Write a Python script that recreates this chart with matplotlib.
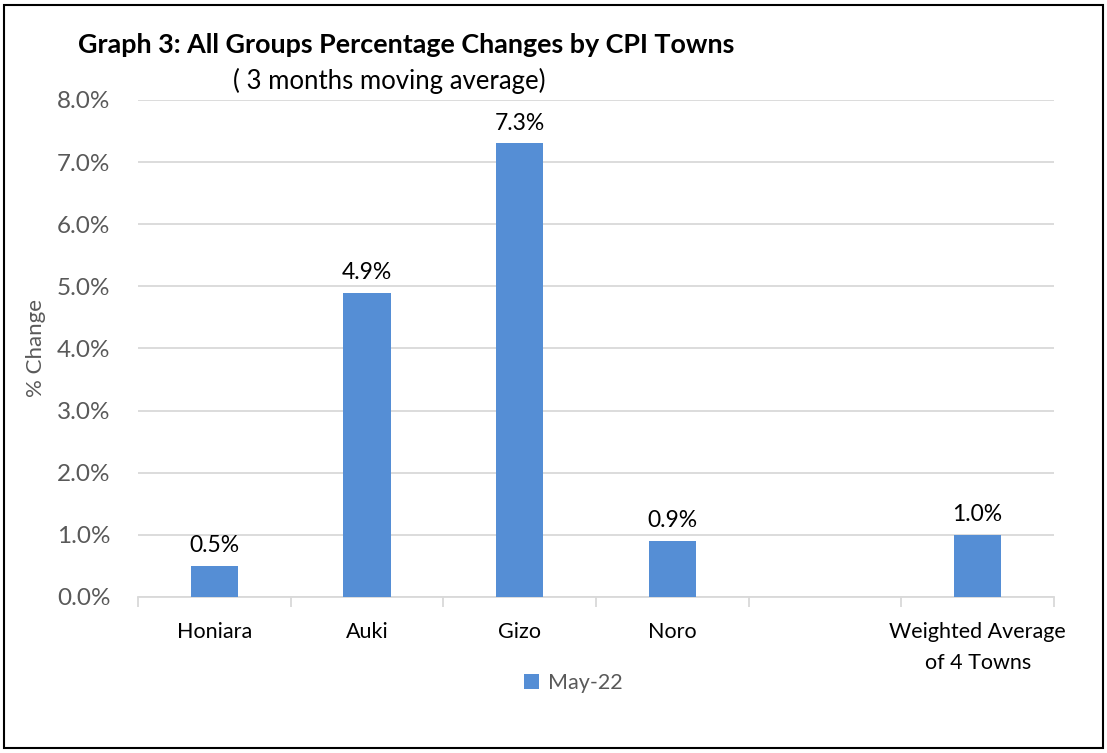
import numpy as np
import matplotlib.pyplot as plt
from matplotlib.patches import Rectangle
from matplotlib.ticker import FuncFormatter, MultipleLocator

plt.rcParams['font.family'] = ['Lato', 'DejaVu Sans']

# data
towns = ['Honiara', 'Auki', 'Gizo', 'Noro', '', 'Weighted Average\nof 4 Towns']
may22 = [0.5, 4.9, 7.3, 0.9, np.nan, 1.0]
series_name = 'May-22'

BAR = '#558ED5'
GRID = '#D9D9D9'
GREY = '#595959'

fig = plt.figure(figsize=(11.07, 7.53), dpi=100)
ax = fig.add_axes([0.1247, 0.2072, 0.9521 - 0.1247, 0.8672 - 0.2072])

x = np.arange(len(towns))
bars = ax.bar(x, may22, width=0.31, color=BAR, label=series_name, zorder=3)

for xi, v in zip(x, may22):
    if np.isnan(v):
        continue
    ax.annotate(f'{v:.1f}%', (xi, v), xytext=(0, 7), textcoords='offset points',
                ha='center', va='bottom', fontsize=16.5, color='black')

ax.set_xlim(-0.5, len(towns) - 0.5)
ax.set_ylim(0, 8)
ax.yaxis.set_major_locator(MultipleLocator(1))
ax.yaxis.set_major_formatter(FuncFormatter(lambda v, p: f'{v:.1f}%'))
ax.grid(axis='y', color=GRID, linewidth=1.3, zorder=0)
ax.set_axisbelow(True)

ax.set_xticks(x)
ax.set_xticklabels(towns, fontsize=15.5, color='black', linespacing=1.7)
ax.set_xticks(np.arange(-0.5, len(towns)), minor=True)
ax.tick_params(axis='x', which='major', length=0, pad=18)
ax.tick_params(axis='x', which='minor', length=7, color=GRID, width=1.3)
ax.tick_params(axis='y', length=0, labelsize=17.5, labelcolor=GREY, pad=20)

for s in ['top', 'right', 'left']:
    ax.spines[s].set_visible(False)
ax.spines['bottom'].set_color(GRID)
ax.spines['bottom'].set_linewidth(1.3)

ax.set_ylabel('% Change', fontsize=16, color=GREY, labelpad=8)

fig.text(0.0705, 0.940, 'Graph 3: All Groups Percentage Changes by CPI Towns',
         fontsize=19.4, fontweight='bold', ha='left', va='center')
fig.text(0.2105, 0.893, '( 3 months moving average)', fontsize=18.5, ha='left', va='center')

leg = fig.legend(handles=[bars], labels=[series_name], loc='center',
                 bbox_to_anchor=(0.518, 0.093), frameon=False, fontsize=15.5,
                 handlelength=0.7, handleheight=0.7, handletextpad=0.4)
for t in leg.get_texts():
    t.set_color(GREY)

fig.add_artist(Rectangle((0.004, 0.006), 0.992, 0.988, transform=fig.transFigure,
                         fill=False, edgecolor='black', linewidth=1.5))

fig.savefig('out.png', dpi=100)
